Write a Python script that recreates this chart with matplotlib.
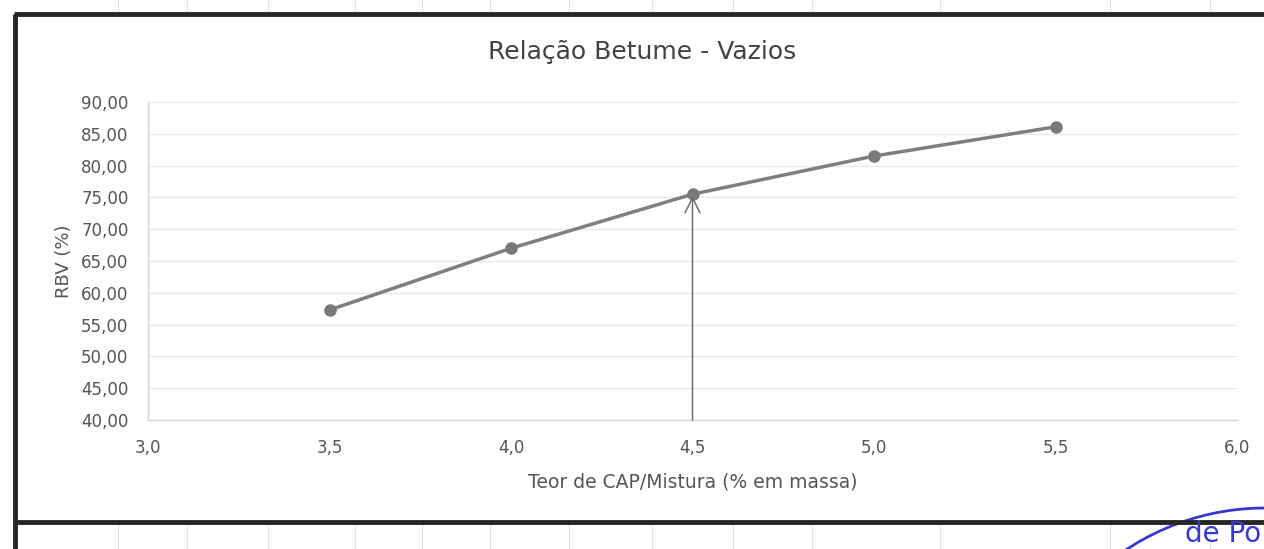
import matplotlib.pyplot as plt
from matplotlib.lines import Line2D
from matplotlib.patches import Arc
from matplotlib.ticker import FuncFormatter, MultipleLocator

# teor de CAP (%) e relação betume-vazios (%)
teor_cap = [3.5, 4.0, 4.5, 5.0, 5.5]
rbv = [57.3, 67.0, 75.5, 81.5, 86.1]
teor_projeto = 4.5

titulo = "Relação Betume - Vazios"
rotulo_x = "Teor de CAP/Mistura (% em massa)"
rotulo_y = "RBV (%)"

plt.rcParams['font.family'] = ['DejaVu Sans']
texto = '#555555'

W, H = 1264, 549
fig = plt.figure(figsize=(W / 100, H / 100), dpi=100)
ax = fig.add_axes([148 / W, 1 - 420 / H, (1237 - 148) / W, (420 - 102) / H])

ax.plot(teor_cap, rbv, color='#7f7f7f', lw=2.5, marker='o', ms=8,
        mfc='#797979', mec='#797979', zorder=3)
i = teor_cap.index(teor_projeto)
ax.annotate('', xy=(teor_projeto, rbv[i] - 0.3), xytext=(teor_projeto, 40),
            arrowprops=dict(arrowstyle='->', color='#6e6e6e', lw=1.1,
                            mutation_scale=27, shrinkA=0, shrinkB=0),
            zorder=4)

ax.set_xlim(3.0, 6.0)
ax.set_ylim(40, 90)
ax.xaxis.set_major_locator(MultipleLocator(0.5))
ax.yaxis.set_major_locator(MultipleLocator(5))
ax.xaxis.set_major_formatter(FuncFormatter(lambda v, p: f"{v:.1f}".replace('.', ',')))
ax.yaxis.set_major_formatter(FuncFormatter(lambda v, p: f"{v:.2f}".replace('.', ',')))
ax.tick_params(length=0, labelsize=12, labelcolor=texto)
ax.tick_params(axis='x', pad=14)
ax.tick_params(axis='y', pad=14)
ax.grid(axis='y', color='#e8e8e8', lw=0.9)
for s in ['top', 'right']:
    ax.spines[s].set_visible(False)
for s in ['left', 'bottom']:
    ax.spines[s].set_color('#d4d4d4')
    ax.spines[s].set_linewidth(1.0)

ax.set_xlabel(rotulo_x, fontsize=13.5, color=texto, labelpad=11)
ax.set_ylabel(rotulo_y, fontsize=13, color=texto, labelpad=6)
fig.text(0.508, 1 - 52 / H, titulo, ha='center', va='center', fontsize=18, color='#424242')

# linhas da planilha fora do quadro
for x in [118, 187, 268, 355, 422, 490, 569, 652, 733, 812, 940, 1110, 1210]:
    xf = x / W
    fig.add_artist(Line2D([xf, xf], [1 - 14 / H, 1], color='#e2e2e2', lw=0.8))
    fig.add_artist(Line2D([xf, xf], [0, 1 - 524 / H], color='#e2e2e2', lw=0.8))

# moldura do gráfico
borda = dict(color='#262626', lw=3.5, solid_capstyle='butt')
fig.add_artist(Line2D([14 / W, 1], [1 - 14 / H] * 2, **borda))
fig.add_artist(Line2D([14 / W, 1], [1 - 522 / H] * 2, **borda))
fig.add_artist(Line2D([15 / W] * 2, [0, 1 - 14 / H], **borda))

# carimbo azul no canto
r = 252
fig.add_artist(Arc((1265 / W, -211 / H), 2 * r / W, 2 * r / H, theta1=75, theta2=123,
                   transform=fig.transFigure, color='#3838cc', lw=2.0))
fig.text(1261 / W, 1 / H, "de Po", fontsize=20, color='#3838cc', ha='right',
         va='bottom')

fig.savefig('out.png', dpi=100)
